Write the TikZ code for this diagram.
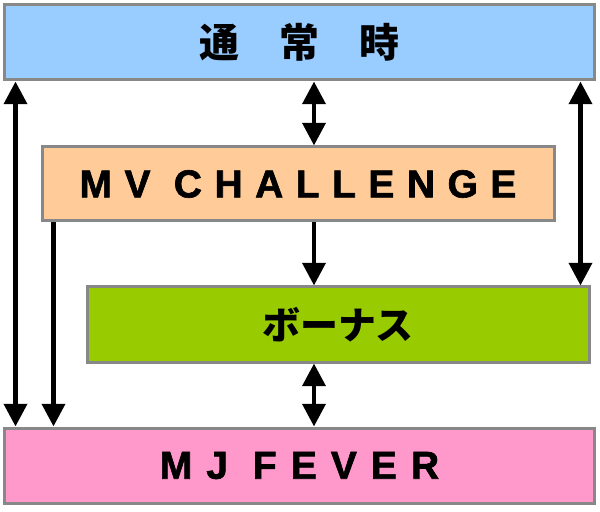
\documentclass[tikz,border=0pt]{standalone}
\usepackage{fontspec}
\usepackage{tikz}
\usetikzlibrary{arrows.meta}
\newfontfamily\wideface{Liberation Sans}[LetterSpace=36, BoldFeatures={FakeBold=1.6}]
\newfontfamily\jpface{Noto Sans CJK JP}
\definecolor{normalblue}{HTML}{99CCFF}
\definecolor{mvpeach}{HTML}{FFCC99}
\definecolor{bonusgreen}{HTML}{99CC00}
\definecolor{feverpink}{HTML}{FF99CC}
\definecolor{framegray}{HTML}{888888}
\tikzstyle{mode} = [rectangle, draw=framegray, line width=0.09cm, inner sep=0pt, minimum height=2.22cm]
\tikzstyle{latin} = [font=\wideface\bfseries\fontsize{33.3}{37}\selectfont]
\tikzstyle{kana} = [font=\jpface\bfseries\fontsize{32.4}{36}\selectfont]
\tikzstyle{arrow} = [line width=0.14cm, -{Triangle[width=0.68cm, length=0.68cm]}]
\tikzstyle{dblarrow} = [line width=0.14cm, {Triangle[width=0.68cm, length=0.68cm]}-{Triangle[width=0.68cm, length=0.68cm]}]

\begin{document}
\begin{tikzpicture}
\useasboundingbox (0,0) rectangle (18,-15.36);
  \node (normal) [mode, kana, fill=normalblue, minimum width=17.67cm, minimum height=2.25cm, font=\jpface\bfseries\fontsize{34.1}{38}\selectfont] at (8.985,-1.275) {通　常　時};
  \node (mv) [mode, latin, fill=mvpeach, minimum width=15.36cm, below of=normal, yshift=-3.245cm, xshift=-0.045cm] {\addfontfeatures{LetterSpace=32}MV CHALLENGE};
  \node (bonus) [mode, kana, fill=bonusgreen, minimum width=15.06cm, minimum height=2.25cm, below of=mv, yshift=-3.215cm, xshift=1.2cm] {ボーナス};
  \node (fever) [mode, latin, fill=feverpink, minimum width=17.67cm, minimum height=2.25cm, below of=bonus, yshift=-3.23cm, xshift=-1.155cm] {MJ FEVER\hspace{1.5cm}};

  \draw[dblarrow] ([xshift=0.36cm]normal.south west) -- ([xshift=0.36cm]normal.south west |- fever.north);
  \draw[arrow] ([xshift=0.39cm]mv.south west) -- ([xshift=0.39cm]mv.south west |- fever.north);
  \draw[dblarrow] ([xshift=0.435cm]normal.south) -- ([xshift=0.435cm]normal.south |- mv.north);
  \draw[arrow] ([xshift=0.435cm]normal.south |- mv.south) -- ([xshift=0.435cm]normal.south |- bonus.north);
  \draw[dblarrow] ([xshift=0.435cm]normal.south |- bonus.south) -- ([xshift=0.435cm]normal.south |- fever.north);
  \draw[dblarrow] ([xshift=-0.45cm]normal.south east) -- ([xshift=-0.45cm]normal.south east |- bonus.north);
\end{tikzpicture}
\end{document}
